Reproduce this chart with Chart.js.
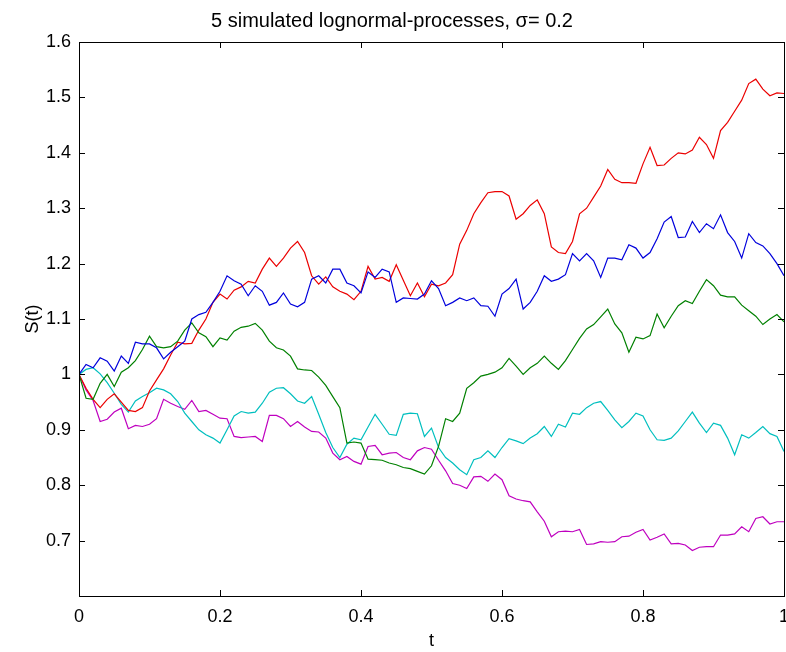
<!DOCTYPE html>
<html>
<head>
<meta charset="utf-8">
<script src="https://cdn.jsdelivr.net/npm/chart.js@4/dist/chart.umd.min.js"></script>
<style>
  html, body { margin: 0; padding: 0; background: #fff; }
  #wrap { width: 786px; height: 652px; }
</style>
</head>
<body>
<div id="wrap"><canvas id="chart"></canvas></div>
<script>
// --  data, one value every 0.01 in t  --
const tValues = Array.from({ length: 101 }, (_, i) => i / 100) // time grid 0..1

const blueSeries = [
    1.000, 1.018, 1.012, 1.030, 1.024, 1.006, 1.033, 1.020, 1.058, 1.055,
    1.055, 1.048, 1.028, 1.040, 1.050, 1.060, 1.100, 1.108, 1.112, 1.130,
    1.150, 1.178, 1.169, 1.163, 1.142, 1.160, 1.150, 1.125, 1.130, 1.147,
    1.127, 1.122, 1.130, 1.172, 1.178, 1.165, 1.190, 1.190, 1.165, 1.160,
    1.147, 1.185, 1.175, 1.190, 1.185, 1.130, 1.138, 1.137, 1.136, 1.145,
    1.169, 1.155, 1.124, 1.130, 1.138, 1.133, 1.138, 1.124, 1.123, 1.105,
    1.145, 1.155, 1.172, 1.118, 1.130, 1.150, 1.178, 1.168, 1.172, 1.180,
    1.218, 1.205, 1.218, 1.205, 1.175, 1.210, 1.210, 1.207, 1.234, 1.228,
    1.210, 1.220, 1.245, 1.275, 1.285, 1.247, 1.248, 1.276, 1.256, 1.272,
    1.263, 1.288, 1.256, 1.240, 1.210, 1.254, 1.238, 1.232, 1.218, 1.200,
    1.178
]

const greenSeries = [
    1.000, 0.957, 0.955, 0.984, 1.000, 0.978, 1.004, 1.012, 1.025, 1.045,
    1.069, 1.050, 1.048, 1.050, 1.060, 1.080, 1.093, 1.075, 1.068, 1.050,
    1.066, 1.062, 1.078, 1.085, 1.087, 1.092, 1.080, 1.060, 1.048, 1.044,
    1.033, 1.010, 1.008, 1.007, 0.995, 0.980, 0.960, 0.940, 0.876, 0.878,
    0.876, 0.847, 0.846, 0.845, 0.840, 0.837, 0.832, 0.830, 0.825, 0.820,
    0.835, 0.870, 0.920, 0.915, 0.930, 0.975, 0.985, 0.997, 1.000, 1.004,
    1.012, 1.029, 1.015, 1.000, 1.012, 1.020, 1.033, 1.020, 1.009, 1.025,
    1.045, 1.065, 1.082, 1.090, 1.104, 1.118, 1.091, 1.075, 1.040, 1.067,
    1.064, 1.070, 1.109, 1.084, 1.105, 1.124, 1.133, 1.128, 1.150, 1.171,
    1.160, 1.143, 1.140, 1.140, 1.125, 1.115, 1.105, 1.090, 1.100, 1.108,
    1.095
]

const redSeries = [
    1.000, 0.975, 0.955, 0.940, 0.955, 0.965, 0.950, 0.935, 0.933, 0.940,
    0.970, 0.990, 1.010, 1.035, 1.058, 1.055, 1.056, 1.080, 1.100, 1.130,
    1.145, 1.136, 1.152, 1.158, 1.168, 1.165, 1.190, 1.210, 1.195, 1.210,
    1.228, 1.240, 1.220, 1.178, 1.163, 1.176, 1.158, 1.150, 1.145, 1.135,
    1.150, 1.195, 1.172, 1.175, 1.168, 1.198, 1.170, 1.142, 1.165, 1.140,
    1.163, 1.160, 1.165, 1.180, 1.235, 1.260, 1.290, 1.310, 1.328, 1.330,
    1.330, 1.322, 1.280, 1.290, 1.305, 1.315, 1.290, 1.230, 1.220, 1.218,
    1.240, 1.290, 1.300, 1.320, 1.340, 1.370, 1.352, 1.346, 1.346, 1.345,
    1.380, 1.410, 1.377, 1.378, 1.390, 1.400, 1.398, 1.405, 1.428, 1.415,
    1.390, 1.440, 1.455, 1.475, 1.495, 1.525, 1.533, 1.515, 1.503, 1.508,
    1.507
]

const cyanSeries = [
    1.000, 1.009, 1.012, 1.001, 0.985, 0.966, 0.946, 0.932, 0.952, 0.960,
    0.967, 0.975, 0.972, 0.965, 0.951, 0.930, 0.915, 0.900, 0.891, 0.885,
    0.876, 0.900, 0.925, 0.933, 0.930, 0.932, 0.948, 0.968, 0.975, 0.976,
    0.965, 0.952, 0.948, 0.960, 0.928, 0.895, 0.868, 0.850, 0.874, 0.885,
    0.882, 0.905, 0.928, 0.910, 0.892, 0.890, 0.928, 0.930, 0.929, 0.888,
    0.903, 0.868, 0.850, 0.840, 0.828, 0.819, 0.846, 0.850, 0.862, 0.850,
    0.868, 0.884, 0.880, 0.875, 0.885, 0.893, 0.906, 0.888, 0.910, 0.905,
    0.930, 0.928, 0.940, 0.948, 0.951, 0.935, 0.918, 0.904, 0.915, 0.930,
    0.925, 0.900, 0.882, 0.881, 0.885, 0.898, 0.915, 0.932, 0.912, 0.895,
    0.912, 0.908, 0.885, 0.855, 0.891, 0.885, 0.895, 0.906, 0.893, 0.888,
    0.861
]

const magentaSeries = [
    1.000, 0.972, 0.953, 0.915, 0.919, 0.932, 0.939, 0.902, 0.908, 0.906,
    0.910, 0.920, 0.955, 0.948, 0.942, 0.937, 0.953, 0.933, 0.935, 0.928,
    0.921, 0.920, 0.888, 0.886, 0.887, 0.888, 0.879, 0.926, 0.926, 0.920,
    0.906, 0.915, 0.905, 0.897, 0.896, 0.885, 0.858, 0.846, 0.852, 0.843,
    0.838, 0.870, 0.872, 0.855, 0.858, 0.859, 0.850, 0.846, 0.862, 0.868,
    0.865, 0.845, 0.826, 0.803, 0.800, 0.794, 0.815, 0.816, 0.807, 0.820,
    0.810, 0.781, 0.775, 0.772, 0.770, 0.752, 0.735, 0.707, 0.716, 0.717,
    0.716, 0.720, 0.693, 0.694, 0.698, 0.697, 0.698, 0.707, 0.708, 0.715,
    0.720, 0.701, 0.706, 0.712, 0.694, 0.695, 0.692, 0.682, 0.688, 0.689,
    0.689, 0.710, 0.710, 0.712, 0.725, 0.716, 0.740, 0.743, 0.730, 0.734,
    0.734
]

const xTicks = [0, 0.2, 0.4, 0.6, 0.8, 1]
const yTicks = [0.6, 0.7, 0.8, 0.9, 1.0, 1.1, 1.2, 1.3, 1.4, 1.5, 1.6]

const fontFamily = "'Liberation Sans', Arial, Helvetica, sans-serif"

// matlab style box: frame on all 4 sides with ticks pointing inwards
const matlabBox = {
    id: 'matlabBox',
    afterDraw (chart) {
        const { ctx, chartArea: a, scales } = chart
        const len = 6
        ctx.save()
        ctx.strokeStyle = '#000'
        ctx.lineWidth = 1
        ctx.beginPath()
        for (let v of xTicks) {
            const x = Math.round(scales.x.getPixelForValue(v)) + 0.5
            ctx.moveTo(x, a.bottom); ctx.lineTo(x, a.bottom - len)
            ctx.moveTo(x, a.top); ctx.lineTo(x, a.top + len)
        }
        for (let v of yTicks) {
            const y = Math.round(scales.y.getPixelForValue(v)) + 0.5
            ctx.moveTo(a.left, y); ctx.lineTo(a.left + len, y)
            ctx.moveTo(a.right, y); ctx.lineTo(a.right - len, y)
        }
        ctx.stroke()
        ctx.strokeRect(Math.round(a.left) + 0.5, Math.round(a.top) + 0.5,
            Math.round(a.right - a.left), Math.round(a.bottom - a.top))
        ctx.restore()
    }
}

function lineSet (data, color) {
    return {
        data: data,
        borderColor: color,
        borderWidth: 1.2,
        pointRadius: 0,
        tension: 0,
        fill: false
    }
}

const ctx = document.getElementById('chart').getContext('2d')
new Chart(ctx, {
    type: 'line',
    data: {
        labels: tValues,
        datasets: [
            lineSet(blueSeries, 'rgb(0,0,220)'),
            lineSet(greenSeries, 'rgb(0,128,0)'),
            lineSet(redSeries, 'rgb(235,0,0)'),
            lineSet(cyanSeries, 'rgb(0,191,191)'),
            lineSet(magentaSeries, 'rgb(191,0,191)')
        ]
    },
    options: {
        responsive: true,
        maintainAspectRatio: false,
        animation: false,
        layout: { padding: { left: 0, right: 2, top: 0, bottom: 0 } },
        plugins: {
            legend: { display: false },
            tooltip: { enabled: false },
            title: {
                display: true,
                text: '5 simulated lognormal-processes, \u03c3= 0.2',
                color: '#000',
                font: { family: fontFamily, size: 20, weight: 'normal' },
                padding: { top: 9, bottom: 9 }
            }
        },
        scales: {
            x: {
                type: 'linear',
                min: 0,
                max: 1,
                afterFit (scale) { scale.height = 56; scale.paddingRight = 0; scale.paddingLeft = 0 },
                afterBuildTicks (scale) { scale.ticks = xTicks.map(v => ({ value: v })) },
                grid: { display: false, drawTicks: false },
                border: { display: false },
                ticks: {
                    color: '#000',
                    padding: 10,
                    maxRotation: 0,
                    font: { family: fontFamily, size: 18 },
                    callback: v => String(Math.round(v * 10) / 10)
                },
                title: {
                    display: true,
                    text: 't',
                    color: '#000',
                    font: { family: fontFamily, size: 18 },
                    padding: { top: 0, bottom: 0 }
                }
            },
            y: {
                min: 0.6,
                max: 1.6,
                afterFit (scale) { scale.width = 79 },
                afterBuildTicks (scale) { scale.ticks = yTicks.map(v => ({ value: v })) },
                grid: { display: false, drawTicks: false },
                border: { display: false },
                ticks: {
                    color: '#000',
                    padding: 8,
                    font: { family: fontFamily, size: 18 },
                    // the bottom label is not shown in the original
                    callback: v => (Math.abs(v - 0.6) < 1e-9 ? '' : String(Math.round(v * 10) / 10))
                },
                title: {
                    display: true,
                    text: 'S(t)',
                    color: '#000',
                    font: { family: fontFamily, size: 18 },
                    padding: { top: 22, bottom: 0 }
                }
            }
        }
    },
    plugins: [matlabBox]
})
</script>
</body>
</html>
